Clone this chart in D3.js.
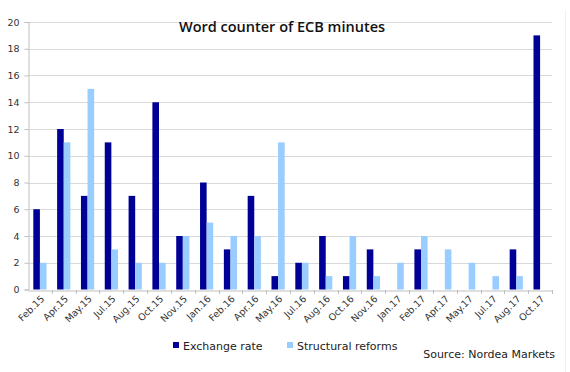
<!DOCTYPE html>
<html><head><meta charset="utf-8">
<script src="https://cdn.jsdelivr.net/npm/d3@7"></script>
<style>
body{margin:0;background:#fff;}
svg{display:block;}
</style></head>
<body>
<svg id="c" width="570" height="372"></svg>
<script>
const categories = ["Feb.15","Apr.15","May.15","Jul.15","Aug.15","Oct.15","Nov.15","Jan.16","Feb.16","Apr.16","May.16","Jul.16","Aug.16","Oct.16","Nov.16","Jan.17","Feb.17","Apr.17","May.17","Jul.17","Aug.17","Oct.17"];
const exchangeRate = [6,12,7,11,7,14,4,8,3,7,1,2,4,1,3,0,3,0,0,0,3,19];
const structuralReforms = [2,11,15,3,2,2,4,5,4,4,11,2,1,4,1,2,4,3,2,1,1,0];
const seriesNames = ["Exchange rate","Structural reforms"];
const seriesColors = ["#000096","#99CCFF"];
const yTicks = [0,2,4,6,8,10,12,14,16,18,20];

const svg = d3.select("#c");
const m = {left:28, right:552, top:22, bottom:289.5};
const x = d3.scaleBand().domain(categories).range([m.left, m.right]).padding(0);
const y = d3.scaleLinear().domain([0,20]).range([m.bottom, m.top]);
const sub = d3.scaleBand().domain(seriesNames).range([-6.6, 6.6]).padding(0);

// faint frame line at right
svg.append("line").attr("x1",565.5).attr("x2",565.5).attr("y1",10).attr("y2",372)
  .attr("stroke","#f0f0f0").attr("stroke-width",1);

// gridlines
svg.append("g").selectAll("line").data(yTicks.filter(d=>d>0)).join("line")
  .attr("x1",m.left).attr("x2",m.right)
  .attr("y1",d=>Math.round(y(d))+0.5).attr("y2",d=>Math.round(y(d))+0.5)
  .attr("stroke","#d9d9d9").attr("stroke-width",1);

// y axis
const yAxis = svg.append("g").attr("transform",`translate(${m.left+0.5},0)`)
  .call(d3.axisLeft(y).tickValues(yTicks).tickSize(4).tickPadding(5));
yAxis.select(".domain").attr("stroke","#bfbfbf");
yAxis.selectAll(".tick line").attr("stroke","#bfbfbf");
yAxis.selectAll(".tick text").attr("font-family","DejaVu Sans, sans-serif").attr("font-size",9.5).attr("fill","#333");

// bars
const data = categories.map((c,i)=>({c, vals:[exchangeRate[i], structuralReforms[i]]}));
const groups = svg.append("g").selectAll("g").data(data).join("g")
  .attr("transform",d=>`translate(${x(d.c)+x.bandwidth()/2},0)`);
groups.selectAll("rect").data(d=>d.vals.map((v,k)=>({k,v}))).join("rect")
  .attr("x",d=>sub(seriesNames[d.k]))
  .attr("width",sub.bandwidth())
  .attr("y",d=>y(d.v))
  .attr("height",d=>y(0)-y(d.v))
  .attr("fill",d=>seriesColors[d.k]);

// x axis
const xAxis = svg.append("g").attr("transform",`translate(0,${Math.round(y(0))+0.5})`)
  .call(d3.axisBottom(x).tickSize(0).tickPadding(0));
xAxis.select(".domain").attr("stroke","#bfbfbf");
// boundary ticks
svg.append("g").selectAll("line").data(categories.slice(1).concat(["__end"])).join("line")
  .attr("x1",(d,i)=>Math.round(i<categories.length-1? x(d): m.right)+0.5)
  .attr("x2",(d,i)=>Math.round(i<categories.length-1? x(d): m.right)+0.5)
  .attr("y1",Math.round(y(0))).attr("y2",Math.round(y(0))+4)
  .attr("stroke","#bfbfbf");
xAxis.selectAll(".tick text")
  .attr("font-family","DejaVu Sans, sans-serif").attr("font-size",9.5).attr("fill","#333")
  .attr("text-anchor","end").attr("dy",null)
  .attr("transform","translate(5,9) rotate(-45)");

// title
svg.append("text").attr("x",282).attr("y",32).attr("text-anchor","middle")
  .attr("font-family","Open Sans, sans-serif").attr("font-weight",600).attr("font-size",14.5)
  .attr("fill","#111").text("Word counter of ECB minutes");

// legend
const lg = svg.append("g");
const legX = [173, 287];
seriesNames.forEach((n,i)=>{
  lg.append("rect").attr("x",legX[i]).attr("y",342).attr("width",6).attr("height",6).attr("fill",seriesColors[i]);
  lg.append("text").attr("x",legX[i]+10).attr("y",349.5)
    .attr("font-family","DejaVu Sans, sans-serif").attr("font-size",11).attr("fill","#222").text(n);
});
svg.append("text").attr("x",555).attr("y",358).attr("text-anchor","end")
  .attr("font-family","DejaVu Sans, sans-serif").attr("font-size",11).attr("fill","#222")
  .text("Source: Nordea Markets");
</script>
</body></html>
